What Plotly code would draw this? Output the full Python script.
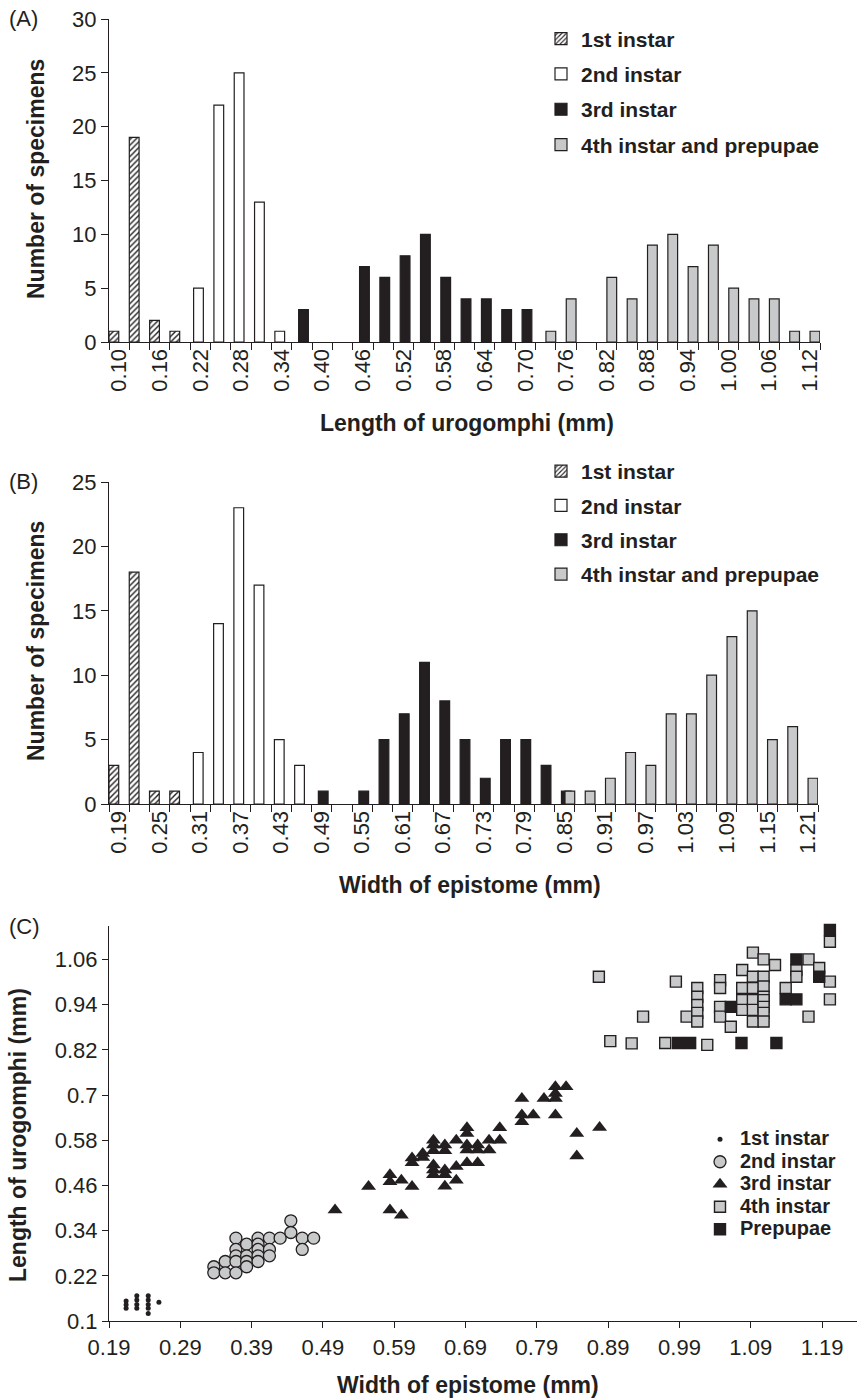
import plotly.graph_objects as go

# ---------------- Panel A: length of urogomphi histogram ----------------
a_bins = [0.10, 0.13, 0.16, 0.19, 0.22, 0.25, 0.28, 0.31, 0.34, 0.37, 0.40, 0.43,
          0.46, 0.49, 0.52, 0.55, 0.58, 0.61, 0.64, 0.67, 0.70, 0.73, 0.76, 0.79,
          0.82, 0.85, 0.88, 0.91, 0.94, 0.97, 1.00, 1.03, 1.06, 1.09, 1.12]
a_first = [1, 19, 2, 1, 0, 0, 0, 0, 0, 0, 0, 0, 0, 0, 0, 0, 0, 0, 0, 0, 0, 0, 0, 0,
           0, 0, 0, 0, 0, 0, 0, 0, 0, 0, 0]
a_second = [0, 0, 0, 0, 5, 22, 25, 13, 1, 0, 0, 0, 0, 0, 0, 0, 0, 0, 0, 0, 0, 0, 0, 0,
            0, 0, 0, 0, 0, 0, 0, 0, 0, 0, 0]
a_third = [0, 0, 0, 0, 0, 0, 0, 0, 0, 3, 0, 0, 7, 6, 8, 10, 6, 4, 4, 3, 3, 0, 0, 0,
           0, 0, 0, 0, 0, 0, 0, 0, 0, 0, 0]
a_fourth = [0, 0, 0, 0, 0, 0, 0, 0, 0, 0, 0, 0, 0, 0, 0, 0, 0, 0, 0, 0, 0, 1, 4, 0,
            6, 4, 9, 10, 7, 9, 5, 4, 4, 1, 1]
a_ticks = ["0.10", "0.16", "0.22", "0.28", "0.34", "0.40", "0.46", "0.52", "0.58",
           "0.64", "0.70", "0.76", "0.82", "0.88", "0.94", "1.00", "1.06", "1.12"]

# ---------------- Panel B: width of epistome histogram ----------------
b_bins = [0.19, 0.22, 0.25, 0.28, 0.31, 0.34, 0.37, 0.40, 0.43, 0.46, 0.49, 0.52,
          0.55, 0.58, 0.61, 0.64, 0.67, 0.70, 0.73, 0.76, 0.79, 0.82, 0.85, 0.88,
          0.91, 0.94, 0.97, 1.00, 1.03, 1.06, 1.09, 1.12, 1.15, 1.18, 1.21]
b_first = [3, 18, 1, 1, 0, 0, 0, 0, 0, 0, 0, 0, 0, 0, 0, 0, 0, 0, 0, 0, 0, 0, 0, 0,
           0, 0, 0, 0, 0, 0, 0, 0, 0, 0, 0]
b_second = [0, 0, 0, 0, 4, 14, 23, 17, 5, 3, 0, 0, 0, 0, 0, 0, 0, 0, 0, 0, 0, 0, 0, 0,
            0, 0, 0, 0, 0, 0, 0, 0, 0, 0, 0]
b_third = [0, 0, 0, 0, 0, 0, 0, 0, 0, 0, 1, 0, 1, 5, 7, 11, 8, 5, 2, 5, 5, 3, 1, 0,
           0, 0, 0, 0, 0, 0, 0, 0, 0, 0, 0]
b_fourth = [0, 0, 0, 0, 0, 0, 0, 0, 0, 0, 0, 0, 0, 0, 0, 0, 0, 0, 0, 0, 0, 0, 1, 1,
            2, 4, 3, 7, 7, 10, 13, 15, 5, 6, 2]
b_ticks = ["0.19", "0.25", "0.31", "0.37", "0.43", "0.49", "0.55", "0.61", "0.67",
           "0.73", "0.79", "0.85", "0.91", "0.97", "1.03", "1.09", "1.15", "1.21"]

# ---------------- Panel C: scatter (width of epistome vs length of urogomphi) ----------------
c1_x = [0.214, 0.214, 0.214, 0.229, 0.229, 0.229, 0.229, 0.245, 0.245, 0.245, 0.245, 0.245, 0.260]
c1_y = [0.134, 0.143, 0.153, 0.134, 0.144, 0.156, 0.167, 0.120, 0.134, 0.144, 0.156, 0.167, 0.150]

c2_x = [0.337, 0.337, 0.353, 0.353, 0.368, 0.368, 0.368, 0.368, 0.368, 0.383, 0.383, 0.383, 0.383,
        0.399, 0.399, 0.399, 0.399, 0.399, 0.415, 0.415, 0.415, 0.430, 0.445, 0.445, 0.461, 0.461, 0.477]
c2_y = [0.244, 0.228, 0.258, 0.228, 0.320, 0.290, 0.273, 0.258, 0.228, 0.304, 0.273, 0.258, 0.244,
        0.320, 0.304, 0.290, 0.273, 0.258, 0.320, 0.290, 0.273, 0.320, 0.366, 0.335, 0.320, 0.290, 0.320]

c3_x = [0.507, 0.554, 0.584, 0.584, 0.600, 0.584, 0.600, 0.615, 0.615, 0.615, 0.630, 0.630,
        0.645, 0.645, 0.645, 0.645, 0.645, 0.645, 0.661, 0.661, 0.661, 0.661, 0.661,
        0.677, 0.677, 0.677, 0.692, 0.692, 0.692, 0.692, 0.692, 0.707, 0.707, 0.707,
        0.723, 0.723, 0.738, 0.738, 0.769, 0.769, 0.769, 0.785, 0.800, 0.816, 0.816,
        0.816, 0.816, 0.831, 0.846, 0.846, 0.878]
c3_y = [0.395, 0.457, 0.488, 0.470, 0.474, 0.395, 0.381, 0.457, 0.533, 0.520, 0.545, 0.534,
        0.580, 0.567, 0.552, 0.514, 0.501, 0.488, 0.567, 0.552, 0.501, 0.488, 0.458,
        0.580, 0.510, 0.474, 0.613, 0.598, 0.567, 0.554, 0.520, 0.567, 0.554, 0.520,
        0.580, 0.554, 0.613, 0.580, 0.691, 0.647, 0.629, 0.647, 0.691, 0.722, 0.704,
        0.691, 0.647, 0.722, 0.598, 0.538, 0.614]

c4_x = [0.877, 0.893, 0.923, 0.939, 0.970, 0.985, 1.000, 1.015, 1.015, 1.015, 1.015, 1.015,
        1.029, 1.047, 1.047, 1.047, 1.047, 1.062, 1.078, 1.078, 1.078, 1.078,
        1.093, 1.093, 1.093, 1.093, 1.093, 1.093, 1.108, 1.108, 1.108, 1.108, 1.108,
        1.108, 1.108, 1.108, 1.124, 1.139, 1.154, 1.154, 1.171, 1.171, 1.186, 1.201,
        1.201, 1.201, 1.243]
c4_y = [1.014, 0.843, 0.837, 0.908, 0.838, 1.001, 0.908, 0.984, 0.961, 0.939, 0.918, 0.895,
        0.833, 1.005, 0.984, 0.934, 0.908, 0.881, 1.032, 0.984, 0.952, 0.926,
        1.078, 1.014, 0.984, 0.952, 0.926, 0.895, 1.060, 1.014, 0.988, 0.961, 0.952,
        0.934, 0.918, 0.895, 1.045, 0.984, 1.032, 1.014, 1.060, 0.908, 1.037, 1.107,
        1.001, 0.954, 0.984]

c5_x = [0.988, 1.005, 1.062, 1.077, 1.126, 1.139, 1.154, 1.154, 1.186, 1.201]
c5_y = [0.838, 0.838, 0.934, 0.838, 0.838, 0.954, 0.954, 1.060, 1.014, 1.138]

c_names = ["1st instar", "2nd instar", "3rd instar", "4th instar", "Prepupae"]
c_xticks = [0.19, 0.29, 0.39, 0.49, 0.59, 0.69, 0.79, 0.89, 0.99, 1.09, 1.19]
c_yticks = [0.1, 0.22, 0.34, 0.46, 0.58, 0.7, 0.82, 0.94, 1.06]
c_yticktext = ["0.1", "0.22", "0.34", "0.46", "0.58", "0.7", "0.82", "0.94", "1.06"]

# ---------------- styling / layout ----------------
W, H = 857, 1399
INK = "#231f20"
GRAY = "#c8c9cb"
FONT = "Liberation Sans, Arial, sans-serif"


def fx(p):
    return p / W


def fy(p):
    return 1 - p / H


fig = go.Figure()

series_names = ["1st instar", "2nd instar", "3rd instar", "4th instar and prepupae"]
series_fill = ["white", "white", INK, GRAY]
series_offset = [-0.50, -0.335, -0.165, 0.01]   # fraction of bin width
bar_frac = 0.48


def add_hist(bins, counts_list, xa, ya, legend_id):
    step = bins[1] - bins[0]
    for k, counts in enumerate(counts_list):
        xs = [b for b, c in zip(bins, counts) if c > 0]
        ys = [c for c in counts if c > 0]
        marker = dict(color=series_fill[k], line=dict(color=INK, width=1.2))
        if k == 0:
            marker["pattern"] = dict(shape="/", fgcolor=INK, bgcolor="white",
                                     size=4, solidity=0.35, fillmode="replace")
        fig.add_trace(go.Bar(
            x=xs, y=ys, name=series_names[k], marker=marker,
            offset=series_offset[k] * step, width=bar_frac * step,
            xaxis=xa, yaxis=ya, legend=legend_id, legendgroup=legend_id + str(k),
            showlegend=True, hoverinfo="x+y"))


add_hist(a_bins, [a_first, a_second, a_third, a_fourth], "x", "y", "legend")
add_hist(b_bins, [b_first, b_second, b_third, b_fourth], "x2", "y2", "legend2")


def lname(s):
    return '<span style="font-size:20px">%s</span>' % s


c_markers = [
    dict(symbol="circle", size=5, color=INK),
    dict(symbol="circle", size=12, color=GRAY, line=dict(color=INK, width=1.3)),
    dict(symbol="triangle-up", size=13, color=INK),
    dict(symbol="square", size=11, color=GRAY, line=dict(color=INK, width=1.4)),
    dict(symbol="square", size=11, color=INK, line=dict(color=INK, width=1.4)),
]
for xs, ys, nm, mk in zip([c1_x, c2_x, c3_x, c4_x, c5_x], [c1_y, c2_y, c3_y, c4_y, c5_y],
                          c_names, c_markers):
    fig.add_trace(go.Scatter(x=xs, y=ys, mode="markers", name=lname(nm), marker=mk,
                             xaxis="x3", yaxis="y3", legend="legend3", cliponaxis=False))

tickfont = dict(family=FONT, size=22, color=INK)
common_axis = dict(showline=True, linecolor=INK, linewidth=1.2, showgrid=False,
                   zeroline=False, tickfont=tickfont, tickcolor=INK, automargin=False)


def hist_xaxis(bins, labels, dom, anchor):
    step = bins[1] - bins[0]
    return dict(common_axis, domain=dom, anchor=anchor,
                range=[bins[0] - step / 2, bins[-1] + step / 2],
                tickmode="array", tickvals=bins[::2], ticktext=labels,
                tickangle=-90, ticks="", ticklabelstandoff=-3,
                minor=dict(ticks="outside", ticklen=7, tickwidth=1.2, tickcolor=INK,
                           tickmode="linear", tick0=bins[0] - step / 2, dtick=step,
                           showgrid=False))


legend_font = dict(family=FONT, size=21, color=INK, weight="bold")
fig.update_layout(
    width=W, height=H, margin=dict(l=0, r=0, t=0, b=0),
    paper_bgcolor="white", plot_bgcolor="white",
    barmode="overlay", font=dict(family=FONT, color=INK),
    xaxis=hist_xaxis(a_bins, a_ticks, [fx(109), fx(820)], "y"),
    yaxis=dict(common_axis, domain=[fy(342), fy(19)], anchor="x", range=[0, 30],
               tickmode="array", tickvals=[0, 5, 10, 15, 20, 25, 30],
               ticks="outside", ticklen=7, tickwidth=1.2),
    xaxis2=hist_xaxis(b_bins, b_ticks, [fx(109), fx(818)], "y2"),
    yaxis2=dict(common_axis, domain=[fy(804), fy(482)], anchor="x2", range=[0, 25],
                tickmode="array", tickvals=[0, 5, 10, 15, 20, 25],
                ticks="outside", ticklen=7, tickwidth=1.2),
    xaxis3=dict(common_axis, domain=[fx(109), 1.0], anchor="y3", range=[0.19, 1.239],
                tickmode="array", tickvals=c_xticks,
                ticktext=["%.2f" % v for v in c_xticks],
                ticks="outside", ticklen=6, tickwidth=1.2),
    yaxis3=dict(common_axis, domain=[fy(1321), fy(925.5)], anchor="x3", range=[0.1, 1.15],
                tickmode="array", tickvals=c_yticks, ticktext=c_yticktext,
                ticks="outside", ticklen=6, tickwidth=1.2),
    legend=dict(x=fx(541), y=fy(18.5), xanchor="left", yanchor="top", font=legend_font,
                bgcolor="rgba(0,0,0,0)", tracegroupgap=5, traceorder="grouped"),
    legend2=dict(x=fx(541), y=fy(451), xanchor="left", yanchor="top", font=legend_font,
                 bgcolor="rgba(0,0,0,0)", tracegroupgap=4, traceorder="grouped"),
    legend3=dict(x=fx(700), y=fy(1123), xanchor="left", yanchor="top",
                 font=dict(family=FONT, size=15, color=INK, weight="bold"),
                 bgcolor="rgba(0,0,0,0)", traceorder="normal"),
)

ann_font = dict(family=FONT, size=23, color=INK, weight="bold")
lab_font = dict(family=FONT, size=22, color=INK)
annotations = [
    dict(text="(A)", x=fx(7), y=fy(18), xanchor="left", font=lab_font),
    dict(text="(B)", x=fx(7), y=fy(482), xanchor="left", font=lab_font),
    dict(text="(C)", x=fx(7), y=fy(926), xanchor="left", font=lab_font),
    dict(text="Length of urogomphi (mm)", x=fx(467), y=fy(423), font=ann_font),
    dict(text="Number of specimens", x=fx(36), y=fy(179), textangle=-90, font=ann_font),
    dict(text="Width of epistome (mm)", x=fx(470), y=fy(885), font=ann_font),
    dict(text="Number of specimens", x=fx(36), y=fy(641), textangle=-90, font=ann_font),
    dict(text="Width of epistome (mm)", x=fx(468), y=fy(1385), font=ann_font),
    dict(text="Length of urogomphi (mm)", x=fx(18), y=fy(1135), textangle=-90, font=ann_font),
]
for a in annotations:
    a.setdefault("xanchor", "center")
    a.update(xref="paper", yref="paper", showarrow=False, yanchor="middle")
fig.update_layout(annotations=annotations)

fig.write_html("out.html", config={"displayModeBar": False},
               post_script="document.body.style.margin='0px';")
